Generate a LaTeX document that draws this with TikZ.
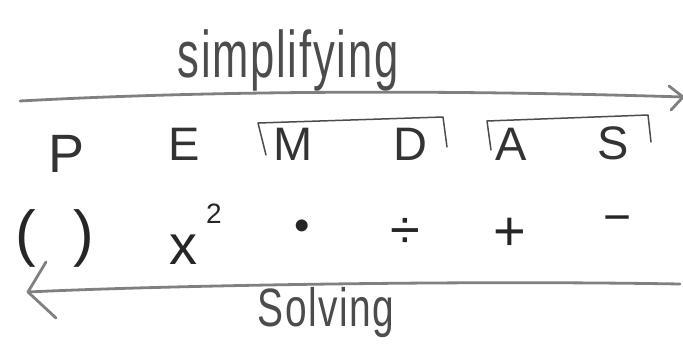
\documentclass[tikz,border=0pt]{standalone}
\usepackage{fontspec}
\setmainfont{Liberation Sans}
\newfontfamily\hand[LetterSpace=4]{Liberation Sans}
\tikzset{
  pencil/.style={draw=black!70, line width=1.5pt, line cap=round, line join=round},
  heavy/.style={draw=black!50, line width=2.8pt, line cap=round, line join=round},
  word/.style={text=black!70, inner sep=0pt, anchor=base},
  letter/.style={text=black!80, inner sep=0pt, anchor=base, font=\fontsize{47}{47}\selectfont},
  sym/.style={text=black!85, inner sep=0pt, anchor=base, font=\fontsize{48}{48}\selectfont}
}
\begin{document}
\begin{tikzpicture}[x=1pt,y=-1pt]
\useasboundingbox (0,0) rectangle (683,343);
% top label
\node[word] (simp) at (288,77) {\hand\fontsize{66}{66}\selectfont\scalebox{0.66}[1]{simplifying}};
% top arrow
\coordinate (t0) at (20,101);
\coordinate (t1) at (683,97);
\draw[heavy] (t0) .. controls (220,90) and (460,90) .. (t1);
\draw[heavy] (669,86) -- (t1) -- (671,110);
% brackets
\coordinate (b1a) at (266,155);
\coordinate (b1b) at (258,123);
\coordinate (b1c) at (443,117);
\coordinate (b1d) at (447,147);
\draw[pencil] (b1a) -- (b1b) -- (b1c) -- (b1d);
\coordinate (b2a) at (491,150);
\coordinate (b2b) at (487,121);
\coordinate (b2c) at (648,115);
\coordinate (b2d) at (651,142);
\draw[pencil] (b2a) -- (b2b) -- (b2c) -- (b2d);
% letters
\node[letter, font=\fontsize{54}{54}\selectfont] (P) at (67,172) {P};
\node[letter] (E) at (184,160) {E};
\node[letter] (M) at (293,160) {M};
\node[letter] (D) at (410,160) {D};
\node[letter] (A) at (511,160) {A};
\node[letter] (S) at (613,159) {S};
% symbols
\node[sym, font=\fontsize{62}{62}\selectfont] (par) at (55,254) {(\hspace{38pt})};
\node[sym, font=\fontsize{56}{56}\selectfont] (pow) at (183,264) {x};
\node[sym, font=\fontsize{28}{28}\selectfont] (sq) at (214,223) {2};
\node[sym, font=\fontsize{44}{44}\selectfont] (dot) at (302,240) {\textbullet};
\node[sym, font=\fontsize{54}{54}\selectfont] (div) at (405,248) {÷};
\node[sym, font=\fontsize{56}{56}\selectfont] (plus) at (510,250) {+};
\node[sym] (minus) at (618,233) {−};
% bottom arrow
\coordinate (s0) at (680,284);
\coordinate (s1) at (28,292);
\draw[heavy] (s0) .. controls (450,280) and (150,286) .. (s1);
\draw[heavy] (46,262) -- (s1) -- (56,318);
% bottom label
\node[word] (solv) at (326,326) {\hand\fontsize{54}{54}\selectfont\scalebox{0.72}[1]{Solving}};
\end{tikzpicture}
\end{document}
